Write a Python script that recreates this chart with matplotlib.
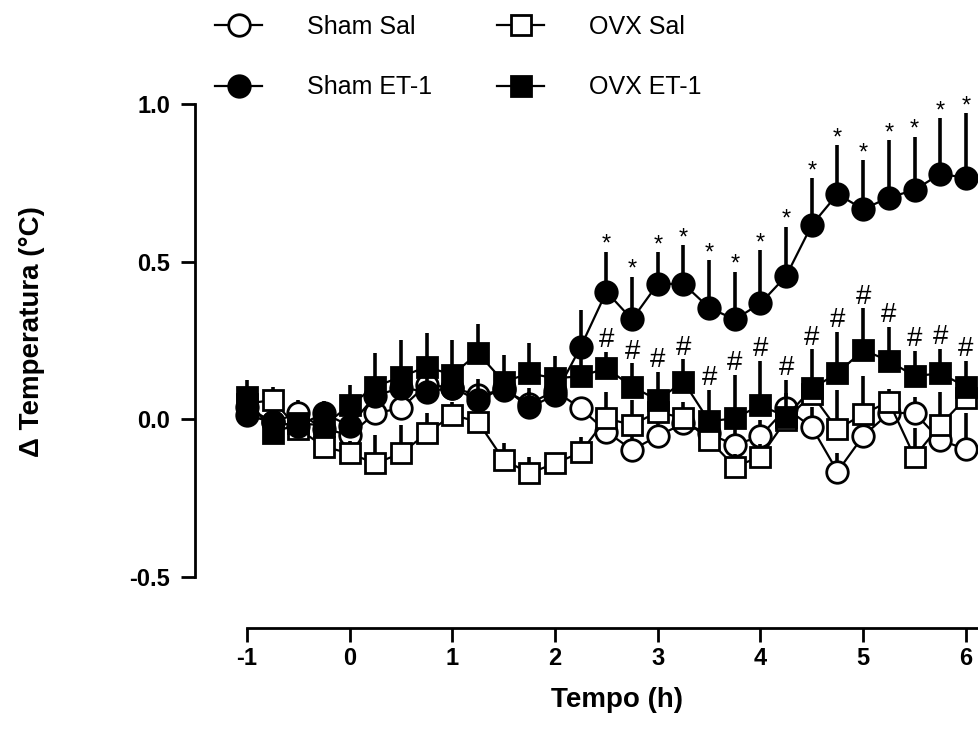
import numpy as np
import matplotlib
matplotlib.use("Agg")
import matplotlib.pyplot as plt
from matplotlib.lines import Line2D

plt.rcParams['font.family'] = ['Liberation Sans', 'DejaVu Sans']
plt.rcParams['axes.unicode_minus'] = False

# tempo (h), a cada 15 min
tempo = np.arange(-1, 6.01, 0.25)

sham_sal = [0.04, -0.01, 0.02, -0.03, -0.05, 0.02, 0.035, 0.11, 0.10, 0.077,
            0.093, 0.05, 0.09, 0.035, -0.039, -0.097, -0.053, -0.013, -0.045,
            -0.082, -0.053, 0.035, -0.025, -0.166, -0.053, 0.019, 0.021,
            -0.066, -0.095]
sham_sal_err = [0.04, 0.04, 0.04, 0.04, 0.04, 0.05, 0.05, 0.05, 0.05, 0.05,
                0.05, 0.05, 0.05, 0.035, 0.05, 0.05, 0.05, 0.05, 0.05,
                0.05, 0.05, 0.05, 0.065, 0.06, 0.05, 0.05, 0.05, 0.05, 0.114]

sham_et1 = [0.014, -0.01, -0.02, 0.019, -0.021, 0.075, 0.10, 0.088, 0.10,
            0.061, 0.10, 0.038, 0.077, 0.23, 0.405, 0.317, 0.43, 0.43, 0.354,
            0.317, 0.368, 0.455, 0.617, 0.715, 0.667, 0.704, 0.728, 0.779,
            0.767]
sham_et1_err = [0.04, 0.04, 0.04, 0.04, 0.04, 0.05, 0.05, 0.05, 0.05, 0.05,
                0.05, 0.05, 0.05, 0.117, 0.127, 0.136, 0.10, 0.123, 0.152,
                0.152, 0.169, 0.156, 0.148, 0.156, 0.156, 0.183, 0.169,
                0.176, 0.204]

ovx_sal = [0.05, 0.061, -0.03, -0.087, -0.108, -0.14, -0.108, -0.045, 0.014,
           -0.008, -0.129, -0.171, -0.14, -0.105, 0.003, -0.018, 0.024, 0.003,
           -0.066, -0.15, -0.119, -0.002, 0.08, -0.032, 0.017, 0.056, -0.119,
           -0.018, 0.067]
ovx_sal_err = [0.04, 0.04, 0.04, 0.04, 0.04, 0.09, 0.09, 0.065, 0.04, 0.04,
               0.053, 0.052, 0.03, 0.05, 0.085, 0.079, 0.04, 0.053, 0.04,
               0.04, 0.04, 0.04, 0.04, 0.125, 0.12, 0.04, 0.09, 0.106, 0.05]

ovx_et1 = [0.072, -0.045, -0.012, -0.02, 0.045, 0.104, 0.135, 0.167, 0.141,
           0.21, 0.119, 0.146, 0.13, 0.137, 0.162, 0.104, 0.061, 0.12, -0.006,
           0.003, 0.045, 0.008, 0.098, 0.146, 0.22, 0.186, 0.137, 0.146, 0.104]
ovx_et1_err = [0.053, 0.03, 0.03, 0.03, 0.064, 0.106, 0.117, 0.106, 0.111,
               0.093, 0.085, 0.095, 0.07, 0.06, 0.053, 0.074, 0.09, 0.071,
               0.099, 0.138, 0.141, 0.117, 0.124, 0.132, 0.132, 0.108, 0.081,
               0.077, 0.081]

# marcas de significancia a partir de 2.5 h
sig_inicio = 2.5

fig = plt.figure(figsize=(9.79, 7.53), dpi=100)
ax = fig.add_axes([195/979, 0.166, 0.8923, 0.7373])

series = [
    (sham_sal, sham_sal_err, 'o', 'white', 'Sham Sal', 15.5),
    (ovx_sal, ovx_sal_err, 's', 'white', 'OVX Sal', 14.5),
    (sham_et1, sham_et1_err, 'o', 'black', 'Sham ET-1', 15.5),
    (ovx_et1, ovx_et1_err, 's', 'black', 'OVX ET-1', 14.5),
]
for z, (m, e, mk, fc, lab, ms) in enumerate(series):
    m = np.array(m)
    e = np.array(e)
    ax.errorbar(tempo, m, yerr=[np.zeros_like(e), e], fmt=mk + '-', color='black',
                mfc=fc, mec='black', mew=2.0, ms=ms, lw=1.6, elinewidth=2.6,
                capsize=0, zorder=3 + z, clip_on=False, label=lab)

# * Sham ET-1 vs Sham Sal, # OVX ET-1 vs OVX Sal
for t, m, e in zip(tempo, sham_et1, sham_et1_err):
    if t >= sig_inicio:
        ax.annotate('*', (t, m + e), xytext=(0, -3), textcoords='offset points',
                    ha='center', va='bottom', fontsize=17)
for t, m, e in zip(tempo, ovx_et1, ovx_et1_err):
    if t >= sig_inicio:
        ax.annotate('#', (t, m + e), xytext=(0, -1), textcoords='offset points',
                    ha='center', va='bottom', fontsize=20)

ax.set_xlim(-1.506, 7.0)
ax.set_ylim(-0.6625, 1.1)
ax.spines['top'].set_visible(False)
ax.spines['right'].set_visible(False)
ax.spines['left'].set_bounds(-0.5, 1.0)
ax.spines['bottom'].set_bounds(-1, 7)
for s in ['left', 'bottom']:
    ax.spines[s].set_linewidth(2.0)

ax.set_xticks(np.arange(-1, 7))
ax.set_yticks([-0.5, 0.0, 0.5, 1.0])
ax.set_yticklabels(['-0.5', '0.0', '0.5', '1.0'])
ax.tick_params(axis='both', length=10, width=2.0, labelsize=17)
ax.tick_params(axis='x', pad=4)
ax.tick_params(axis='y', pad=8)
for lb in ax.get_xticklabels() + ax.get_yticklabels():
    lb.set_fontweight('bold')

fig.text(617/979, 1 - 700/753, 'Tempo (h)', ha='center', va='center',
         fontsize=20, fontweight='bold')
fig.text(32/979, 1 - 332/753, 'Δ Temperatura (°C)', ha='center', va='center',
         rotation=90, fontsize=20, fontweight='bold')

# legenda em duas colunas no topo
def handle(mk, fc, ms):
    return Line2D([], [], color='black', marker=mk, mfc=fc, mec='black',
                  mew=2.0, ms=ms, lw=1.6)
leg1 = fig.legend([handle('o', 'white', 15.5), handle('o', 'black', 15.5)],
                  ['Sham Sal', 'Sham ET-1'], loc='upper left',
                  bbox_to_anchor=(215/979, 1 - 15/753), frameon=False,
                  fontsize=18, handlelength=1.9, handletextpad=1.8,
                  labelspacing=1.45, borderpad=0, borderaxespad=0)
leg2 = fig.legend([handle('s', 'white', 14.5), handle('s', 'black', 14.5)],
                  ['OVX Sal', 'OVX ET-1'], loc='upper left',
                  bbox_to_anchor=(497/979, 1 - 15/753), frameon=False,
                  fontsize=18, handlelength=1.9, handletextpad=1.8,
                  labelspacing=1.45, borderpad=0, borderaxespad=0)

fig.savefig('out.png', dpi=100)
